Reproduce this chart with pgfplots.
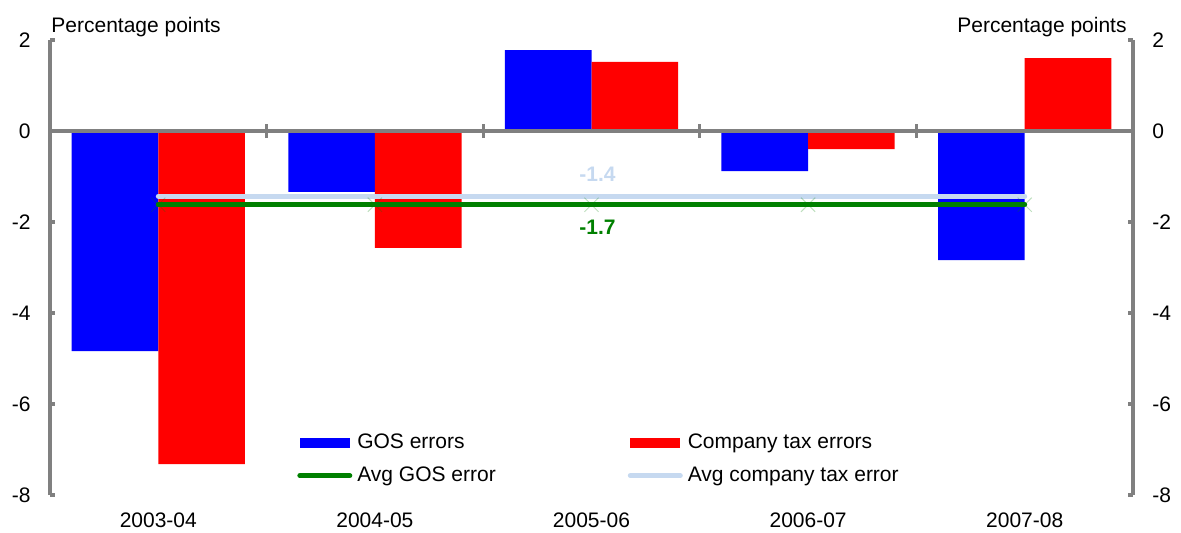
\documentclass[border=0pt]{standalone}
\usepackage{fontspec}
\setmainfont{Liberation Sans}
\usepackage{pgfplots}
\pgfplotsset{compat=1.18}
\definecolor{axgray}{RGB}{128,128,128}
\definecolor{avgblue}{RGB}{198,217,240}
\definecolor{avggreen}{RGB}{0,128,0}
\begin{document}
\fontsize{10.5}{12.6}\selectfont
\begin{tikzpicture}
\useasboundingbox (0,0) rectangle (590.5pt,266pt);
\pgfplotsset{
 common/.style={
  at={(25pt,18.5pt)}, anchor=south west,
  scale only axis, width=541.5pt, height=227.5pt,
  xmin=-0.5, xmax=4.5, ymin=-8, ymax=2,
  /pgf/number format/assume math mode=true,
  axis line style={draw=axgray, line width=2pt},
  tick style={draw=axgray, line width=1.6pt},
 }
}
\begin{axis}[common, clip=false,
  axis y line*=left, axis x line*=bottom,
  x axis line style={draw=none},
  xtick={0,...,4}, xticklabels={2003-04,2004-05,2005-06,2006-07,2007-08},
  x tick style={draw=none},
  xticklabel style={yshift=-5pt},
  ytick={-8,-6,...,2},
  tick align=inside, major tick length=2.5pt,
  yticklabel style={xshift=-6pt},
  legend columns=2,
  legend cell align=left,
  legend style={at={(0.228,0.139)}, anchor=north west, draw=none, fill=none,
    inner sep=0pt, row sep=6pt, column sep=2.5pt,
    nodes={inner sep=0pt, text height=8pt, text depth=2.5pt, anchor=west},
    /tikz/every even column/.append style={column sep=66pt}},
]
\addplot[ybar, bar width=0.4, bar shift=-0.2, fill=blue, draw=none,
  legend image code/.code={\fill[blue] (0pt,-2.5pt) rectangle (25pt,2.5pt);}]
  coordinates {(0,-4.84) (1,-1.34) (2,1.78) (3,-0.88) (4,-2.84)};
\addlegendentry{GOS errors}
\addplot[ybar, bar width=0.4, bar shift=0.2, fill=red, draw=none,
  legend image code/.code={\fill[red] (0pt,-2.5pt) rectangle (25pt,2.5pt);}]
  coordinates {(0,-7.32) (1,-2.57) (2,1.52) (3,-0.40) (4,1.60)};
\addlegendentry{Company tax errors}
\addplot[only marks, mark=x, mark size=5pt, draw=avggreen, draw opacity=0.25, mark options={line width=0.5pt}, forget plot]
  coordinates {(0,-1.62) (1,-1.62) (2,-1.62) (3,-1.62) (4,-1.62)};
\addplot[avggreen, line width=2.5pt, line cap=round,
  legend image code/.code={\draw[avggreen, line width=2.5pt, line cap=round] (0pt,0pt) -- (25pt,0pt);}]
  coordinates {(0,-1.62) (1,-1.62) (2,-1.62) (3,-1.62) (4,-1.62)};
\addlegendentry{Avg GOS error}
\addplot[avgblue, line width=2.5pt, line cap=round,
  legend image code/.code={\draw[avgblue, line width=2.5pt, line cap=round] (0pt,0pt) -- (25pt,0pt);}]
  coordinates {(0,-1.43) (1,-1.43) (2,-1.43) (3,-1.43) (4,-1.43)};
\addlegendentry{Avg company tax error}
\node[font=\bfseries, text=avgblue, xshift=3pt, yshift=11pt] at (axis cs:2,-1.43) {-1.4};
\node[font=\bfseries, text=avggreen, xshift=3pt, yshift=-11.5pt] at (axis cs:2,-1.62) {-1.7};
\node[anchor=base west, inner sep=0pt, xshift=0.5pt, yshift=4pt] at (rel axis cs:0,1) {Percentage points};
\node[anchor=base east, inner sep=0pt, xshift=-3pt, yshift=4pt] at (rel axis cs:1,1) {Percentage points};
\end{axis}
\begin{axis}[common,
  axis y line*=right, axis x line=none,
  xtick=\empty,
  ytick={-8,-6,...,2},
  tick align=inside, major tick length=2.5pt,
  yticklabel style={xshift=6pt},
]
\end{axis}
\begin{axis}[common,
  axis x line*=middle, axis y line=none,
  xtick={0.5,1.5,2.5,3.5}, xticklabels={},
  ytick=\empty,
  tick align=center, major tick length=7pt,
]
\end{axis}
\end{tikzpicture}
\end{document}
